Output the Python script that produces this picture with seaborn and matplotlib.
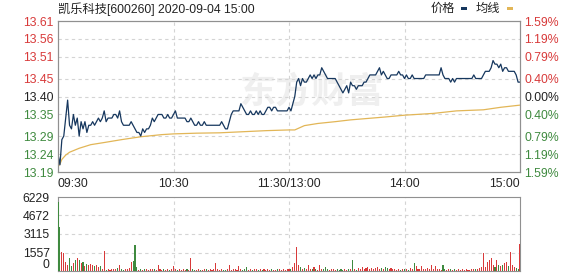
import numpy as np
import pandas as pd
import matplotlib
matplotlib.use("Agg")
import matplotlib.pyplot as plt
import seaborn as sns
from matplotlib.patches import Rectangle

# ---------------- data ----------------
title_text = "凯乐科技[600260] 2020-09-04 15:00"
legend_labels = ["价格", "均线"]
watermark = "东方财富"
prev_close = 13.40
price_ticks = [13.19, 13.24, 13.29, 13.35, 13.40, 13.45, 13.51, 13.56, 13.61]
pct_labels = ["1.59%", "1.19%", "0.79%", "0.40%", "0.00%", "0.40%", "0.79%", "1.19%", "1.59%"]
time_ticks = [0, 60, 120, 180, 240]
time_labels = ["09:30", "10:30", "11:30/13:00", "14:00", "15:00"]
vol_ticks = [0, 1557, 3115, 4672, 6229]

price = [
    13.24, 13.21, 13.28, 13.29, 13.34, 13.39, 13.32, 13.31, 13.35, 13.32,
    13.34, 13.29, 13.33, 13.31, 13.33, 13.30, 13.32, 13.32, 13.33, 13.32,
    13.33, 13.34, 13.33, 13.34, 13.36, 13.33, 13.34, 13.34, 13.34, 13.35,
    13.35, 13.34, 13.36, 13.33, 13.32, 13.32, 13.32, 13.32, 13.33, 13.32,
    13.31, 13.30, 13.30, 13.29, 13.31, 13.30, 13.31, 13.31, 13.32, 13.34,
    13.33, 13.34, 13.35, 13.35, 13.35, 13.34, 13.34, 13.35, 13.34, 13.34,
    13.35, 13.36, 13.34, 13.34, 13.34, 13.34, 13.34, 13.33, 13.33, 13.34,
    13.33, 13.32, 13.32, 13.33, 13.32, 13.32, 13.33, 13.32, 13.32, 13.32,
    13.32, 13.32, 13.32, 13.32, 13.32, 13.33, 13.32, 13.31, 13.31, 13.33,
    13.35, 13.36, 13.36, 13.36, 13.36, 13.38, 13.37, 13.36, 13.35, 13.35,
    13.36, 13.35, 13.35, 13.36, 13.35, 13.36, 13.35, 13.35, 13.36, 13.37,
    13.37, 13.36, 13.37, 13.37, 13.36, 13.36, 13.36, 13.36, 13.36, 13.36,
    13.37, 13.36, 13.38, 13.40, 13.44, 13.45, 13.43, 13.45, 13.44, 13.44,
    13.45, 13.46, 13.45, 13.46, 13.45, 13.46, 13.46, 13.48, 13.47, 13.46,
    13.45, 13.45, 13.45, 13.45, 13.45, 13.44, 13.43, 13.42, 13.41, 13.42,
    13.43, 13.41, 13.44, 13.43, 13.43, 13.42, 13.43, 13.43, 13.43, 13.44,
    13.44, 13.45, 13.46, 13.46, 13.46, 13.46, 13.47, 13.48, 13.46, 13.47,
    13.46, 13.45, 13.45, 13.46, 13.46, 13.46, 13.46, 13.47, 13.46, 13.46,
    13.45, 13.46, 13.45, 13.45, 13.46, 13.45, 13.45, 13.45, 13.45, 13.45,
    13.45, 13.46, 13.46, 13.46, 13.46, 13.46, 13.46, 13.46, 13.46, 13.48,
    13.46, 13.45, 13.45, 13.45, 13.44, 13.45, 13.44, 13.45, 13.45, 13.45,
    13.45, 13.45, 13.45, 13.45, 13.45, 13.45, 13.46, 13.45, 13.45, 13.45,
    13.45, 13.46, 13.47, 13.47, 13.47, 13.48, 13.50, 13.49, 13.49, 13.48,
    13.49, 13.47, 13.48, 13.48, 13.47, 13.47, 13.47, 13.47, 13.46, 13.44,
    13.44,
]

avg_minute = [0, 1, 2, 4, 6, 11, 17, 24, 33, 43, 54, 60, 72, 84, 96, 108, 120, 123,
              128, 135, 144, 152, 161, 170, 180, 195, 207, 221, 230, 240]
avg_price = [13.205, 13.212, 13.225, 13.237, 13.245, 13.256, 13.266, 13.272, 13.280,
             13.288, 13.294, 13.296, 13.298, 13.299, 13.302, 13.305, 13.307, 13.307,
             13.319, 13.325, 13.330, 13.335, 13.339, 13.343, 13.348, 13.353, 13.360,
             13.363, 13.370, 13.376]

volume = [
    5840, 3730, 1630, 1490, 780, 500, 1060, 420, 640, 930,
    1060, 930, 650, 790, 450, 560, 500, 560, 500, 450,
    500, 370, 450, 150, 1680, 120, 180, 90, 210, 150,
    130, 240, 500, 160, 110, 200, 140, 260, 790, 840,
    2190, 365, 120, 160, 90, 140, 200, 110, 170, 130,
    150, 100, 500, 140, 90, 170, 120, 200, 110, 150,
    450, 130, 90, 160, 110, 140, 100, 200, 120, 1120,
    150, 110, 90, 170, 120, 100, 150, 200, 90, 130,
    110, 160, 700, 140, 100, 180, 120, 90, 150, 500,
    110, 160, 130, 90, 450, 140, 110, 170, 365, 120,
    150, 100, 130, 180, 90, 140, 110, 160, 100, 130,
    90, 150, 120, 100, 170, 130, 110, 140, 90, 160,
    200, 150, 300, 645, 2050, 500, 365, 180, 250, 150,
    500, 200, 140, 365, 160, 120, 500, 180, 130, 365,
    150, 110, 170, 130, 100, 150, 120, 160, 90, 140,
    110, 170, 200, 925, 150, 120, 250, 200, 300, 180,
    250, 300, 200, 280, 150, 250, 300, 200, 260, 180,
    300, 220, 150, 250, 200, 180, 120, 150, 100, 200,
    130, 160, 110, 250, 150, 645, 450, 200, 150, 450,
    180, 140, 250, 160, 500, 130, 450, 180, 150, 120,
    500, 200, 110, 160, 130, 100, 150, 120, 180, 90,
    140, 110, 160, 120, 100, 150, 180, 130, 200, 250,
    300, 1490, 365, 790, 925, 1065, 500, 300, 925, 500,
    400, 500, 645, 790, 400, 1630, 500, 300, 250, 200,
    2245,
]

# ---------------- style ----------------
sns.set_style("white")
plt.rcParams["font.family"] = ["Liberation Sans", "Noto Sans CJK SC", "DejaVu Sans"]
FS = 8.8
RED = "#d83a3a"
GREEN = "#3f8a3f"
PRICE_C = "#16375e"
AVG_C = "#e2b657"
GRID_C = "#d4d4d4"
SPINE_C = "#909090"

W, H = 578, 276
fig = plt.figure(figsize=(W / 100, H / 100), dpi=100)
ax = fig.add_axes([58 / W, 1 - 172 / H, 462 / W, 151 / H])
axv = fig.add_axes([58 / W, 1 - 271 / H, 462 / W, 74 / H])

minutes = list(range(len(price)))
df = pd.DataFrame({"minute": minutes, "price": price})
dfa = pd.DataFrame({"minute": avg_minute, "avg": avg_price})

# watermark
ax.text(0.55, 0.53, watermark, transform=ax.transAxes, fontsize=26, color="#efefef",
        fontweight="bold", ha="center", va="center", family=["Noto Sans CJK SC"], zorder=0)

sns.lineplot(data=dfa, x="minute", y="avg", ax=ax, color=AVG_C, lw=0.9, zorder=3)
sns.lineplot(data=df, x="minute", y="price", ax=ax, color=PRICE_C, lw=0.9, zorder=4)

ax.set_xlim(0, 240)
ax.set_ylim(price_ticks[0], price_ticks[-1])
ax.set_yticks(price_ticks)
ax.set_yticklabels([f"{t:.2f}" for t in price_ticks])
ax.set_xticks(time_ticks)
ax.set_xticklabels(time_labels)
ax.set_xlabel("")
ax.set_ylabel("")
ax.tick_params(axis="both", length=0, labelsize=FS, pad=3)
ax.tick_params(axis="x", pad=4)
xl = ax.get_xticklabels()
xl[0].set_ha("left")
xl[-1].set_ha("right")
for t, lab in zip(price_ticks, ax.get_yticklabels()):
    lab.set_color(RED if t > prev_close + 1e-9 else (GREEN if t < prev_close - 1e-9 else "#222222"))

for t in price_ticks[1:-1]:
    ax.axhline(t, color=GRID_C, lw=0.8, ls=(0, (3, 3)), zorder=1)
for t in time_ticks[1:-1]:
    ax.axvline(t, color=GRID_C, lw=0.8, ls=(0, (3, 3)), zorder=1)

ax2 = ax.twinx()
ax2.set_ylim(price_ticks[0], price_ticks[-1])
ax2.set_yticks(price_ticks)
ax2.set_yticklabels(pct_labels)
ax2.tick_params(axis="y", length=0, labelsize=FS, pad=3)
for t, lab in zip(price_ticks, ax2.get_yticklabels()):
    lab.set_color(RED if t > prev_close + 1e-9 else (GREEN if t < prev_close - 1e-9 else "#222222"))

for a in (ax, ax2, axv):
    for s in a.spines.values():
        s.set_color(SPINE_C)
        s.set_linewidth(0.8)

# volume
bar_colors = []
for i, p in enumerate(price):
    ref = prev_close if i == 0 else price[i - 1]
    bar_colors.append(RED if p >= ref else GREEN)
axv.bar(minutes, volume, width=0.55, color=bar_colors, linewidth=0, zorder=3)
axv.set_xlim(0, 240)
axv.set_ylim(0, vol_ticks[-1])
axv.set_yticks(vol_ticks)
axv.set_yticklabels([str(v) for v in vol_ticks])
axv.set_xticks([])
axv.tick_params(axis="y", length=0, labelsize=FS, pad=6, colors="#222222")
axv.get_yticklabels()[0].set_va("bottom")
for t in vol_ticks[1:-1]:
    axv.axhline(t, color=GRID_C, lw=0.8, ls=(0, (3, 3)), zorder=1)
for t in time_ticks[1:-1]:
    axv.axvline(t, color=GRID_C, lw=0.8, ls=(0, (3, 3)), zorder=1)

# title and legend
fig.text(58 / W, 1 - 9 / H, title_text, fontsize=FS, ha="left", va="center", color="#222222")
fig.text(455 / W, 1 - 9 / H, legend_labels[0], fontsize=FS, ha="right", va="center", color="#222222")
fig.patches.append(Rectangle((461 / W, 1 - 10 / H), 6 / W, 2.5 / H, transform=fig.transFigure,
                             facecolor=PRICE_C, edgecolor="none"))
fig.text(500 / W, 1 - 9 / H, legend_labels[1], fontsize=FS, ha="right", va="center", color="#222222")
fig.patches.append(Rectangle((507 / W, 1 - 10 / H), 6 / W, 2.5 / H, transform=fig.transFigure,
                             facecolor=AVG_C, edgecolor="none"))

fig.savefig("out.png", dpi=100)
